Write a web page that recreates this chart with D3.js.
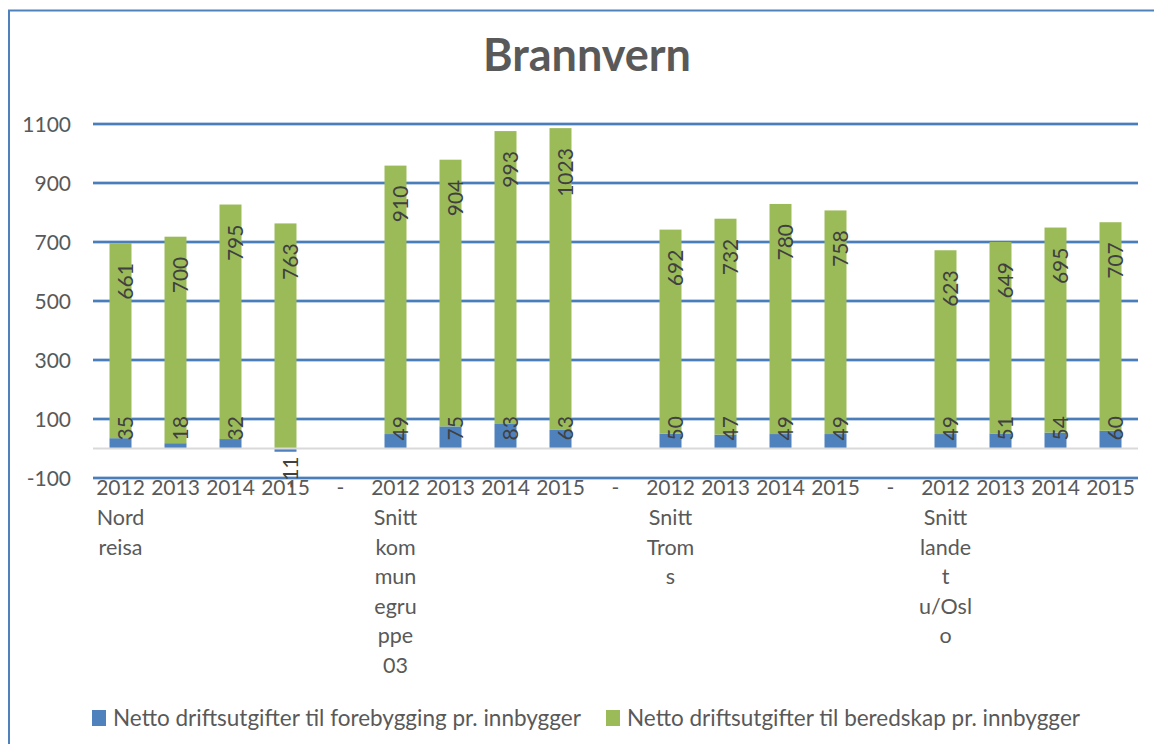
<!DOCTYPE html>
<html>
<head>
<meta charset="utf-8">
<script src="https://cdn.jsdelivr.net/npm/d3@7"></script>
<style>
  html, body { margin: 0; padding: 0; background: #fff; }
  svg { display: block; font-family: Lato, "Open Sans", sans-serif; }
</style>
</head>
<body>
<svg id="chart" width="1154" height="744"></svg>
<script>
// Slots along the category axis: each group has four years, groups are separated by a "-" slot
const slots = [
  "2012","2013","2014","2015","-",
  "2012","2013","2014","2015","-",
  "2012","2013","2014","2015","-",
  "2012","2013","2014","2015"
];
// Group labels, already broken into lines the way they wrap under the first year
const groupLabels = [
  { slot: 0,  lines: ["Nord", "reisa"] },
  { slot: 5,  lines: ["Snitt", "kom", "mun", "egru", "ppe", "03"] },
  { slot: 10, lines: ["Snitt", "Trom", "s"] },
  { slot: 15, lines: ["Snitt", "lande", "t", "u/Osl", "o"] }
];
// Netto driftsutgifter til forebygging pr. innbygger (null in separator slots)
const forebygging = [35, 18, 32, -11, null, 49, 75, 83, 63, null, 50, 47, 49, 49, null, 49, 51, 54, 60];
// Netto driftsutgifter til beredskap pr. innbygger
const beredskap   = [661, 700, 795, 763, null, 910, 904, 993, 1023, null, 692, 732, 780, 758, null, 623, 649, 695, 707];
const seriesNames = [
  "Netto driftsutgifter til forebygging pr. innbygger",
  "Netto driftsutgifter til beredskap pr. innbygger"
];
const yTicks = [-100, 100, 300, 500, 700, 900, 1100];

const colors = ["#4f81bd", "#9bbb59"];
const textColor = "#595959";

const svg = d3.select("#chart");
const W = 1154, H = 744;
const plot = { left: 93, right: 1138, top: 124, bottom: 478 };

// chart area frame (top and left edges)
svg.append("line").attr("x1", 8).attr("x2", W).attr("y1", 10.5).attr("y2", 10.5)
  .attr("stroke", "#4f81bd").attr("stroke-width", 2);
svg.append("line").attr("x1", 9).attr("x2", 9).attr("y1", 10).attr("y2", H)
  .attr("stroke", "#4f81bd").attr("stroke-width", 2);

// title
svg.append("text").attr("x", 587).attr("y", 71).attr("text-anchor", "middle")
  .attr("font-size", 45).attr("font-weight", "bold").attr("fill", textColor)
  .text("Brannvern");

const x = d3.scaleBand().domain(d3.range(slots.length))
  .range([plot.left, plot.right]).paddingInner(0.6).paddingOuter(0.3);
const y = d3.scaleLinear().domain([-100, 1100]).range([plot.bottom, plot.top]);

// horizontal gridlines
const grid = svg.append("g");
yTicks.forEach(t => {
  grid.append("line").attr("x1", plot.left).attr("x2", plot.right)
    .attr("y1", y(t)).attr("y2", y(t))
    .attr("stroke", "#a7c0e0").attr("stroke-width", 3.5);
  grid.append("line").attr("x1", plot.left).attr("x2", plot.right)
    .attr("y1", y(t)).attr("y2", y(t))
    .attr("stroke", "#4a7ebb").attr("stroke-width", 1.8);
});

// y axis labels
const yAxis = d3.axisLeft(y).tickValues(yTicks).tickSize(0).tickPadding(0)
  .tickFormat(d => String(d));
const yg = svg.append("g").attr("transform", `translate(${plot.left - 22},0)`).call(yAxis);
yg.select(".domain").remove();
yg.selectAll("text").attr("font-size", 21).attr("fill", textColor)
  .attr("font-family", "Lato, sans-serif").attr("dy", "0.35em");

// stacked bars
const bars = svg.append("g");
slots.forEach((s, i) => {
  const f = forebygging[i], b = beredskap[i];
  if (f == null) return;
  bars.append("rect").attr("x", x(i)).attr("width", x.bandwidth())
    .attr("y", y(Math.max(0, f))).attr("height", Math.abs(y(f) - y(0)))
    .attr("fill", colors[0]);
  const base = Math.max(0, f);
  bars.append("rect").attr("x", x(i)).attr("width", x.bandwidth())
    .attr("y", y(base + b)).attr("height", y(base) - y(base + b))
    .attr("fill", colors[1]);
});

// zero line
svg.append("line").attr("x1", plot.left).attr("x2", plot.right)
  .attr("y1", y(0)).attr("y2", y(0))
  .attr("stroke", "#d9d9d9").attr("stroke-width", 2);

// rotated value labels
const labels = svg.append("g").attr("font-size", 21).attr("fill", "#404040");
slots.forEach((s, i) => {
  const f = forebygging[i], b = beredskap[i];
  if (f == null) return;
  const cx = x(i) + x.bandwidth() / 2 + 12;
  // forebygging label sits at the base of its segment
  const fy = f >= 0 ? y(0) - 8 : y(0) + 8;
  labels.append("text").attr("transform", `translate(${cx},${fy}) rotate(-90)`)
    .attr("text-anchor", f >= 0 ? "start" : "end")
    .text(f);
  // beredskap label sits just below the top of the stack
  const top = y(Math.max(0, f) + b);
  labels.append("text").attr("transform", `translate(${cx},${top + 20}) rotate(-90)`)
    .attr("text-anchor", "end")
    .text(b);
});

// category axis: years and separators
const xAxis = d3.axisBottom(x).tickFormat(i => slots[i]).tickSize(0).tickPadding(0);
const xg = svg.append("g").attr("transform", `translate(0,${plot.bottom + 10})`).call(xAxis);
xg.select(".domain").remove();
xg.selectAll("text").attr("font-size", 21).attr("fill", textColor)
  .attr("font-family", "Lato, sans-serif").attr("dy", "0.35em");

// group labels under the first year of each group
const gl = svg.append("g").attr("font-size", 21.5).attr("fill", textColor).attr("text-anchor", "middle");
groupLabels.forEach(g => {
  const cx = x(g.slot) + x.bandwidth() / 2;
  g.lines.forEach((ln, k) => {
    gl.append("text").attr("x", cx).attr("y", 525 + k * 29.6).text(ln);
  });
});

// legend
const legend = svg.append("g").attr("font-size", 22.5).attr("fill", textColor);
const legendX = [92, 606];
seriesNames.forEach((name, k) => {
  legend.append("rect").attr("x", legendX[k]).attr("y", 710).attr("width", 14).attr("height", 16)
    .attr("fill", colors[k]);
  legend.append("text").attr("x", legendX[k] + 21).attr("y", 726).text(name);
});
</script>
</body>
</html>
